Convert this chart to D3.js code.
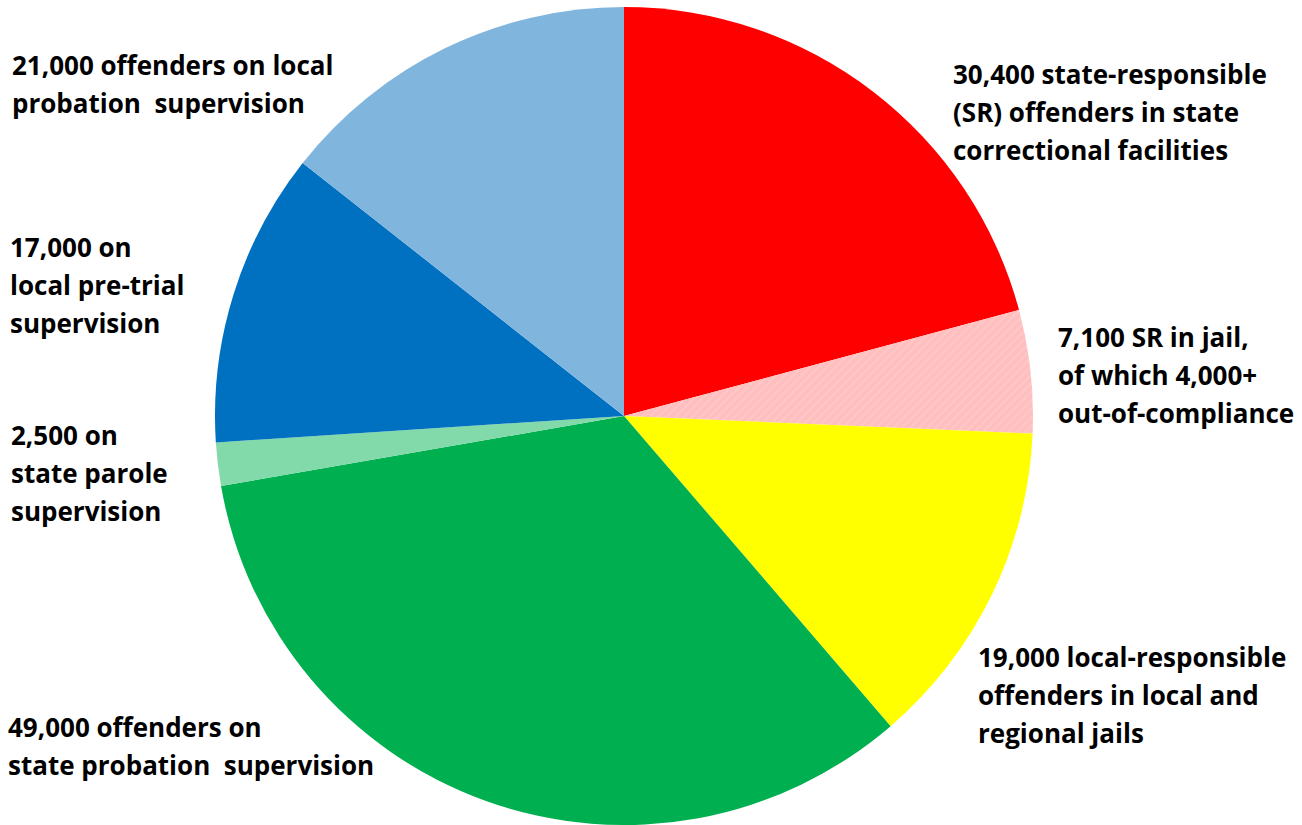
<!DOCTYPE html>
<html>
<head>
<meta charset="utf-8">
<script src="https://cdn.jsdelivr.net/npm/d3@7"></script>
<style>
  html, body { margin: 0; padding: 0; background: #ffffff; }
  svg { display: block; }
  text { font-family: "Open Sans", Lato, "DejaVu Sans", sans-serif; font-weight: 700; fill: #000; white-space: pre; }
</style>
</head>
<body>
<svg id="chart" width="1302" height="825"></svg>
<script>
// Offender populations by supervision category, clockwise from 12 o'clock
const categories = [
  "SR in state facilities",
  "SR in jail",
  "Local-responsible in jails",
  "State probation",
  "State parole",
  "Local pre-trial",
  "Local probation"
];
const values = [30400, 7100, 19000, 49000, 2500, 17000, 21000];
const colors = ["#ff0000", "#ffbfbf", "#ffff00", "#00b050", "#82d9a9", "#0070c0", "#80b5de"];
const labelLines = [
  ["30,400 state-responsible", "(SR) offenders in state", "correctional facilities"],
  ["7,100 SR in jail,", "of which 4,000+", "out-of-compliance"],
  ["19,000 local-responsible", "offenders in local and", "regional jails"],
  ["49,000 offenders on", "state probation  supervision"],
  ["2,500 on", "state parole", "supervision"],
  ["17,000 on", "local pre-trial", "supervision"],
  ["21,000 offenders on local", "probation  supervision"]
];
// Anchor (left x, first baseline y) of each label block
const labelAnchors = [
  [953, 84], [1058, 347], [978, 667], [8, 737], [11, 445], [10, 257], [12, 75]
];

const svg = d3.select("#chart");
const cx = 624, cy = 416, radius = 409, lineGap = 38;

// faint diagonal hatch used on the jail slice
const defs = svg.append("defs");
const pat = defs.append("pattern")
  .attr("id", "hatch")
  .attr("patternUnits", "userSpaceOnUse")
  .attr("width", 6).attr("height", 6)
  .attr("patternTransform", "rotate(-45)");
pat.append("rect").attr("width", 6).attr("height", 6).attr("fill", "#ffbfbf");
pat.append("rect").attr("width", 6).attr("height", 2).attr("fill", "#ffc7c7");

const pie = d3.pie().sort(null).value(d => d.value);
const arc = d3.arc().innerRadius(0).outerRadius(radius);

const data = categories.map((c, i) => ({ name: c, value: values[i], color: colors[i] }));

svg.append("g")
  .attr("transform", `translate(${cx},${cy})`)
  .selectAll("path")
  .data(pie(data))
  .join("path")
  .attr("d", arc)
  .attr("fill", (d, i) => i === 1 ? "url(#hatch)" : d.data.color);

const labels = svg.append("g").attr("font-size", 26);
labelLines.forEach((lines, i) => {
  const t = labels.append("text")
    .attr("x", labelAnchors[i][0])
    .attr("y", labelAnchors[i][1]);
  lines.forEach((ln, j) => {
    t.append("tspan")
      .attr("x", labelAnchors[i][0])
      .attr("dy", j === 0 ? 0 : lineGap)
      .text(ln);
  });
});
</script>
</body>
</html>
